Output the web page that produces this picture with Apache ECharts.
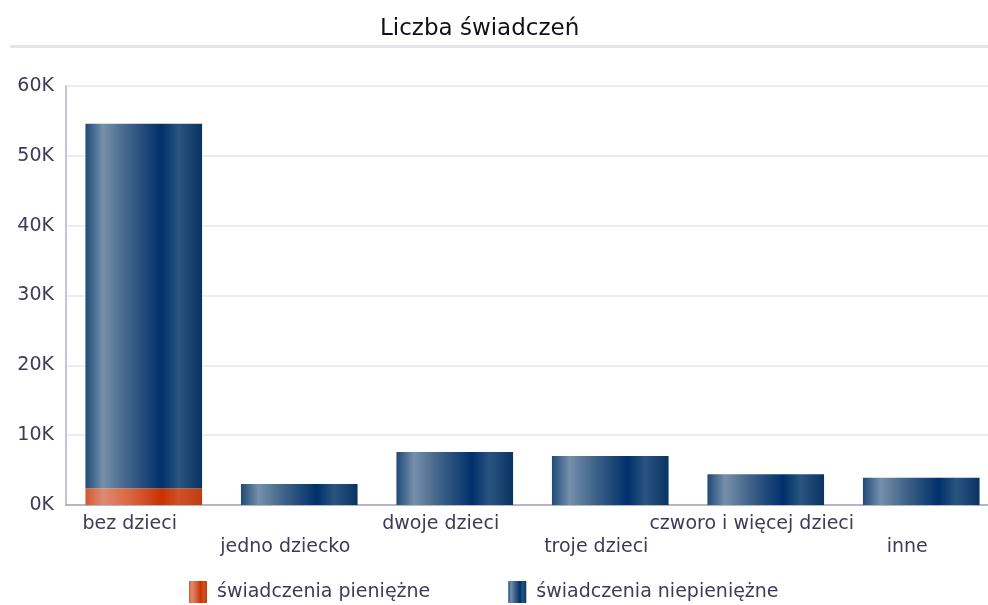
<!DOCTYPE html>
<html>
<head>
<meta charset="utf-8">
<script src="https://cdn.jsdelivr.net/npm/echarts@6/dist/echarts.min.js"></script>
<style>html,body{margin:0;padding:0;background:#fff;}#c{width:988px;height:605px;}</style>
</head>
<body>
<div id="c"></div>
<script>
const categories = ['bez dzieci', 'jedno dziecko', 'dwoje dzieci', 'troje dzieci', 'czworo i więcej dzieci', 'inne'];
const seriesNames = ['świadczenia pieniężne', 'świadczenia niepieniężne'];
const pieniezne = [2400, 0, 0, 0, 0, 0];
const niepieniezne = [52200, 3000, 7600, 7000, 4400, 3900];
const yTicks = { min: 0, max: 60000, interval: 10000 };

const blueGrad = new echarts.graphic.LinearGradient(0, 0, 1, 0, [
  { offset: 0, color: '#1f4a78' },
  { offset: 0.15, color: '#7590aa' },
  { offset: 0.38, color: '#3d6088' },
  { offset: 0.65, color: '#00306a' },
  { offset: 0.8, color: '#2a5580' },
  { offset: 1, color: '#083262' }
]);
const orangeGrad = new echarts.graphic.LinearGradient(0, 0, 1, 0, [
  { offset: 0, color: '#d2582e' },
  { offset: 0.15, color: '#e08a6e' },
  { offset: 0.4, color: '#d8643e' },
  { offset: 0.65, color: '#c83200' },
  { offset: 0.8, color: '#d05028' },
  { offset: 1, color: '#c03c10' }
]);

const chart = echarts.init(document.getElementById('c'));
chart.setOption({
  animation: false,
  textStyle: { fontFamily: 'DejaVu Sans' },
  title: {
    text: 'Liczba świadczeń',
    left: 375, top: 13,
    textStyle: { fontSize: 23, fontWeight: 'normal', color: '#111', fontFamily: 'DejaVu Sans' }
  },
  graphic: [{
    type: 'rect', left: 10, top: 45, shape: { width: 978, height: 3 },
    style: { fill: '#e4e4ee' }, silent: true
  }],
  legend: {
    top: 581, left: 189, padding: 0,
    icon: 'rect',
    itemWidth: 18, itemHeight: 22, itemGap: 78,
    textStyle: { fontSize: 19, color: '#3c3c58', padding: [0, 0, 0, 5] },
    data: seriesNames
  },
  grid: { left: 66, width: 933, top: 86, height: 419, containLabel: false, outerBoundsMode: 'none' },
  xAxis: {
    type: 'category',
    data: categories,
    axisLine: { lineStyle: { color: '#b4b4cc', width: 2 } },
    axisTick: { show: false },
    axisLabel: {
      interval: 0, fontSize: 19, color: '#3c3c58', lineHeight: 23, margin: 8,
      padding: [0, 28, 0, 0],
      formatter: (v, i) => (i % 2 === 1 ? '\n' + v : v)
    }
  },
  yAxis: {
    type: 'value',
    min: yTicks.min, max: yTicks.max, interval: yTicks.interval,
    axisLine: { show: true, lineStyle: { color: '#c4c4d8', width: 2 } },
    splitLine: { lineStyle: { color: '#e6e6ee', width: 1.5 } },
    axisLabel: { fontSize: 19, color: '#3c3c58', margin: 12, formatter: v => (v / 1000) + 'K' }
  },
  series: [
    { name: seriesNames[0], type: 'bar', stack: 'a', barWidth: '75%', data: pieniezne, itemStyle: { color: orangeGrad } },
    { name: seriesNames[1], type: 'bar', stack: 'a', barWidth: '75%', data: niepieniezne, itemStyle: { color: blueGrad } }
  ]
});
</script>
</body>
</html>
